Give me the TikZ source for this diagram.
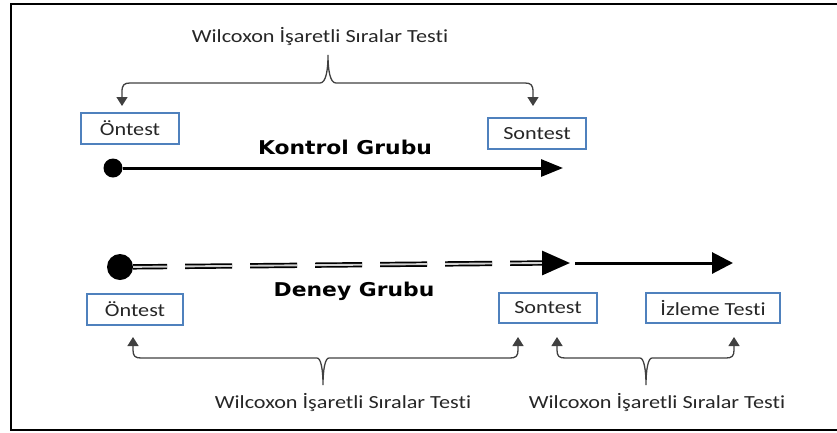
\documentclass[tikz,border=0pt]{standalone}
\usepackage{fontspec}
\setmainfont{Carlito}[FakeStretch=1.2,Ligatures={NoCommon,NoContextual}]
\newfontfamily\groupfont{DejaVu Sans}[FakeStretch=1.15]
\usetikzlibrary{arrows.meta}
\definecolor{boxblue}{RGB}{79,129,189}
\definecolor{textgray}{RGB}{38,38,38}
\definecolor{bracegray}{RGB}{64,64,64}
\tikzset{
  testbox/.style={draw=boxblue,line width=1.3pt,text=textgray,inner sep=0pt,
    minimum height=31pt,font=\fontsize{18.5}{22}\selectfont},
  testlabel/.style={text=textgray,anchor=base,inner sep=0pt,font=\fontsize{18.5}{22}\selectfont},
  groupname/.style={anchor=base,inner sep=0pt,font=\groupfont\bfseries\fontsize{19}{23}\selectfont},
  startdot/.style={circle,fill=black,inner sep=0pt},
  bracearrow/.style={draw=bracegray,line width=1.3pt,
    {Triangle[length=9pt,width=11pt]}-{Triangle[length=9pt,width=11pt]}},
  timeline/.style={line width=3pt},
  dashedtrack/.style={line width=1.7pt,double=gray!35,double distance=1.9pt,
    dash pattern=on 47pt off 18pt,dash phase=13pt},
}

\begin{document}
\begin{tikzpicture}[x=1pt,y=-1pt]
    \useasboundingbox (0,0) rectangle (837,432);
    \draw[line width=2.5pt] (11,4) rectangle (850,430);

    % kontrol grubu
    \node[testlabel] (topwil) at (320,42) {Wilcoxon İşaretli Sıralar Testi};
    \node[testbox,minimum width=98pt] (kon) at (130,128.5) {Öntest};
    \node[testbox,minimum width=98pt] (kson) at (537,133.5) {Sontest};
    \node[groupname] (kontrol) at (345,154) {Kontrol Grubu};
    \node[startdot,minimum size=19pt] (kdot) at (113,168) {};
    \coordinate (kend) at (563,168);
    \draw[timeline,-{Triangle[length=22pt,width=17pt]}] (kdot) -- (kend);
    \coordinate (topL) at (122,106);
    \coordinate (topR) at (533,106);
    \draw[bracearrow] (topL) -- (122,92) .. controls (122,85) and (124,83) .. (130,83)
      -- (320,83) .. controls (326,83) and (328,70) .. (328,55)
      .. controls (328,70) and (330,83) .. (336,83)
      -- (525,83) .. controls (531,83) and (533,85) .. (533,92) -- (topR);

    % deney grubu
    \node[startdot,minimum size=26pt] (ddot) at (120,267) {};
    \coordinate (dhead) at (542,263);
    \coordinate (dtip) at (570,263);
    \coordinate (dsolid) at (575,263);
    \coordinate (dend) at (733,263);
    \draw[dashedtrack] (ddot) -- (dhead);
    \draw[timeline,-{Triangle[length=28pt,width=24pt]}] (dhead) -- (dtip);
    \draw[timeline,-{Triangle[length=21pt,width=21pt]}] (dsolid) -- (dend);
    \node[groupname] (deney) at (354,296) {Deney Grubu};
    \node[testbox,minimum width=96pt] (don) at (135,309.5) {Öntest};
    \node[testbox,minimum width=98pt,minimum height=30pt] (dson) at (548,308) {Sontest};
    \node[testbox,minimum width=134pt,minimum height=30pt] (dizl) at (713,308) {İzleme Testi};
    \coordinate (b1L) at (133,337);
    \coordinate (b1R) at (518,337);
    \draw[bracearrow] (b1L) -- (133,350) .. controls (133,356) and (135,358) .. (141,358)
      -- (317,358) .. controls (321,358) and (323,370) .. (323,385)
      .. controls (323,370) and (325,358) .. (329,358)
      -- (510,358) .. controls (516,358) and (518,356) .. (518,350) -- (b1R);
    \coordinate (b2L) at (557,337);
    \coordinate (b2R) at (734,337);
    \draw[bracearrow] (b2L) -- (557,350) .. controls (557,356) and (559,358) .. (565,358)
      -- (640,358) .. controls (644,358) and (646,370) .. (646,385)
      .. controls (646,370) and (648,358) .. (652,358)
      -- (726,358) .. controls (732,358) and (734,356) .. (734,350) -- (b2R);
    \node[testlabel] (botwil) at (343,408) {Wilcoxon İşaretli Sıralar Testi};
    \node[testlabel] (izlwil) at (657,408) {Wilcoxon İşaretli Sıralar Testi};
\end{tikzpicture}
\end{document}
